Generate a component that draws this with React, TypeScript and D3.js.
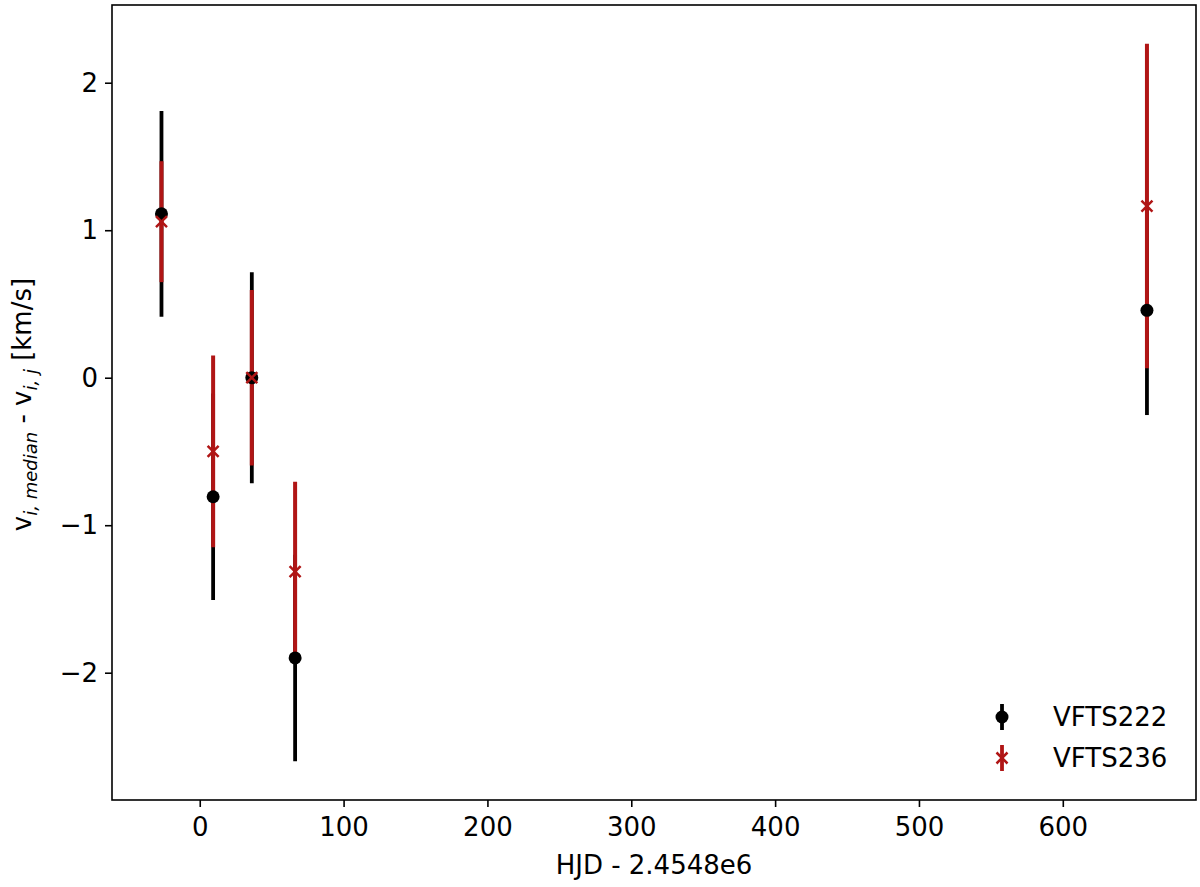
import React, { useEffect, useRef } from 'react'
import * as d3 from 'd3'

// HJD - 2.4548e6
const hjd = [-26.6, 9.3, 36.2, 66.3, 658.5]

// VFTS222
const v222 = [1.111, -0.807, 0.0, -1.9, 0.457]
const e222 = [0.697, 0.7, 0.715, 0.7, 0.71]

// VFTS236
const v236 = [1.058, -0.5, 0.0, -1.315, 1.164]
const e236 = [0.41, 0.65, 0.595, 0.61, 1.1]

const xTicks = [0, 100, 200, 300, 400, 500, 600]
const yTicks = [-2, -1, 0, 1, 2]

const RED = '#b01515'

function App() {
  const svgRef = useRef<SVGSVGElement>(null)
  const width = 1200
  const height = 887
  const margin = { top: 5, right: 4, bottom: 87, left: 112 }

  useEffect(() => {
    const svg = d3.select(svgRef.current)
    svg.selectAll('*').remove()

    const innerWidth = width - margin.left - margin.right
    const innerHeight = height - margin.top - margin.bottom

    const x = d3.scaleLinear().domain([-61, 692.6]).range([0, innerWidth])
    const y = d3.scaleLinear().domain([-2.863, 2.527]).range([innerHeight, 0])

    const g = svg.append('g')
      .attr('transform', `translate(${margin.left},${margin.top})`)

    const font = 'DejaVu Sans, sans-serif'
    const fs = '26px'

    // error bars
    const bars = (vals: number[], errs: number[], color: string, w: number) => {
      g.append('g').selectAll('line')
        .data(vals)
        .enter()
        .append('line')
        .attr('x1', (d, i) => x(hjd[i]))
        .attr('x2', (d, i) => x(hjd[i]))
        .attr('y1', (d, i) => y(d - errs[i]))
        .attr('y2', (d, i) => y(d + errs[i]))
        .attr('stroke', color)
        .attr('stroke-width', w)
    }
    bars(v222, e222, 'black', 3.8)
    bars(v236, e236, RED, 4)

    // markers
    g.append('g').selectAll('circle')
      .data(v222)
      .enter()
      .append('circle')
      .attr('cx', (d, i) => x(hjd[i]))
      .attr('cy', d => y(d))
      .attr('r', 6.5)
      .attr('fill', 'black')

    const cross = 'M-5.5,-5.5L5.5,5.5M-5.5,5.5L5.5,-5.5'
    g.append('g').selectAll('path')
      .data(v236)
      .enter()
      .append('path')
      .attr('transform', (d, i) => `translate(${x(hjd[i])},${y(d)})`)
      .attr('d', cross)
      .attr('stroke', RED)
      .attr('stroke-width', 2.5)
      .attr('fill', 'none')

    // frame
    g.append('rect')
      .attr('width', innerWidth)
      .attr('height', innerHeight)
      .attr('fill', 'none')
      .attr('stroke', 'black')
      .attr('stroke-width', 1.6)

    // x axis
    const xAxis = g.append('g')
      .attr('transform', `translate(0,${innerHeight})`)
      .call(d3.axisBottom(x).tickValues(xTicks).tickSize(7).tickPadding(11).tickFormat(d3.format('d')))
    xAxis.select('.domain').remove()
    xAxis.selectAll('line').attr('stroke-width', 1.6)
    xAxis.selectAll('text').attr('font-size', fs).attr('font-family', font).attr('fill', 'black')

    // y axis
    const yAxis = g.append('g')
      .call(d3.axisLeft(y).tickValues(yTicks).tickSize(7).tickPadding(7)
        .tickFormat(d => String(d).replace('-', '\u2212')))
    yAxis.select('.domain').remove()
    yAxis.selectAll('line').attr('stroke-width', 1.6)
    yAxis.selectAll('text').attr('font-size', fs).attr('font-family', font).attr('fill', 'black')

    // axis labels
    g.append('text')
      .attr('x', innerWidth / 2)
      .attr('y', innerHeight + 74)
      .attr('text-anchor', 'middle')
      .attr('font-size', fs)
      .attr('font-family', font)
      .text('HJD - 2.4548e6')

    const yl = g.append('text')
      .attr('transform', `translate(-81,${innerHeight / 2 + 2}) rotate(-90)`)
      .attr('text-anchor', 'middle')
      .attr('font-size', fs)
      .attr('font-family', font)
    yl.append('tspan').text('v')
    yl.append('tspan').attr('font-size', '18px').attr('font-style', 'italic').attr('dy', 6).text('i, median')
    yl.append('tspan').attr('dy', -6).text(' - v')
    yl.append('tspan').attr('font-size', '18px').attr('font-style', 'italic').attr('dy', 6).text('i, j')
    yl.append('tspan').attr('dy', -6).text(' [km/s]')

    // legend
    const lx = x(-61) + 890
    const legend = g.append('g')
    const rows = [
      { name: 'VFTS222', color: 'black', yy: 712 },
      { name: 'VFTS236', color: RED, yy: 753 },
    ]
    rows.forEach((r, i) => {
      legend.append('line')
        .attr('x1', lx).attr('x2', lx)
        .attr('y1', r.yy - 13).attr('y2', r.yy + 13)
        .attr('stroke', r.color).attr('stroke-width', 3.8)
      if (i === 0) {
        legend.append('circle').attr('cx', lx).attr('cy', r.yy).attr('r', 6.5).attr('fill', 'black')
      } else {
        legend.append('path')
          .attr('transform', `translate(${lx},${r.yy})`)
          .attr('d', cross)
          .attr('stroke', RED).attr('stroke-width', 2.5).attr('fill', 'none')
      }
      legend.append('text')
        .attr('x', lx + 51)
        .attr('y', r.yy)
        .attr('dy', '0.36em')
        .attr('font-size', fs)
        .attr('font-family', font)
        .text(r.name)
    })
  }, [])

  return <svg ref={svgRef} width={width} height={height} style={{ position: 'absolute', left: 0, top: 0 }}></svg>
}

export default App
